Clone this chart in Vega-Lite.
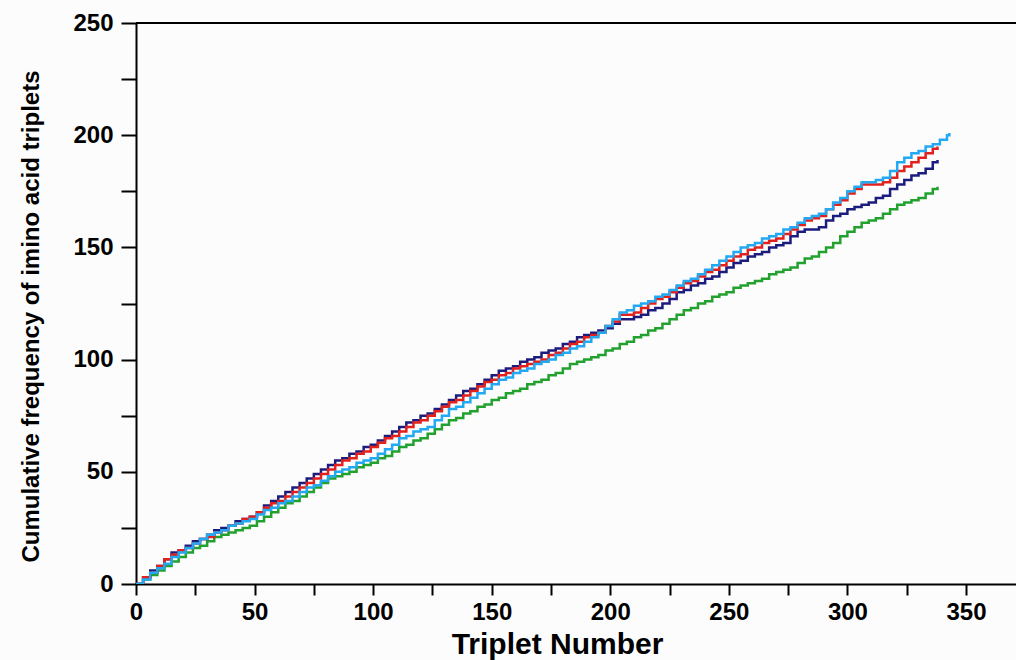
{
  "$schema": "https://vega.github.io/schema/vega-lite/v6.json",
  "width": 880,
  "height": 561,
  "autosize": {"type": "none"},
  "padding": {"left": 136, "top": 23, "right": 0, "bottom": 76},
  "background": "#fcfcfc",
  "view": {"stroke": null, "fill": "#fcfcfc"},
  "config": {"font": "Liberation Sans"},
  "data": {"values": [
    {"s":"green","x":0,"y":0},{"s":"green","x":3,"y":2},{"s":"green","x":6,"y":4},{"s":"green","x":9,"y":6},{"s":"green","x":12,"y":8},{"s":"green","x":15,"y":10},{"s":"green","x":18,"y":12},{"s":"green","x":21,"y":14},{"s":"green","x":24,"y":16},{"s":"green","x":27,"y":17},{"s":"green","x":30,"y":19},{"s":"green","x":33,"y":21},{"s":"green","x":36,"y":22},{"s":"green","x":39,"y":23},{"s":"green","x":42,"y":24},{"s":"green","x":45,"y":25},{"s":"green","x":48,"y":26},{"s":"green","x":51,"y":28},{"s":"green","x":54,"y":30},{"s":"green","x":57,"y":32},{"s":"green","x":60,"y":34},{"s":"green","x":63,"y":36},{"s":"green","x":66,"y":37},{"s":"green","x":69,"y":39},{"s":"green","x":72,"y":41},{"s":"green","x":75,"y":43},{"s":"green","x":78,"y":45},{"s":"green","x":81,"y":47},{"s":"green","x":84,"y":48},{"s":"green","x":87,"y":49},{"s":"green","x":90,"y":50},{"s":"green","x":93,"y":52},{"s":"green","x":96,"y":53},{"s":"green","x":99,"y":54},{"s":"green","x":102,"y":56},{"s":"green","x":105,"y":57},{"s":"green","x":108,"y":59},{"s":"green","x":111,"y":61},{"s":"green","x":114,"y":62},{"s":"green","x":117,"y":64},{"s":"green","x":120,"y":65},{"s":"green","x":123,"y":67},{"s":"green","x":126,"y":69},{"s":"green","x":129,"y":71},{"s":"green","x":132,"y":73},{"s":"green","x":135,"y":74},{"s":"green","x":138,"y":76},{"s":"green","x":141,"y":77},{"s":"green","x":144,"y":79},{"s":"green","x":147,"y":80},{"s":"green","x":150,"y":82},{"s":"green","x":153,"y":83},{"s":"green","x":156,"y":85},{"s":"green","x":159,"y":86},{"s":"green","x":162,"y":87},{"s":"green","x":165,"y":89},{"s":"green","x":168,"y":90},{"s":"green","x":171,"y":91},{"s":"green","x":174,"y":93},{"s":"green","x":177,"y":94},{"s":"green","x":180,"y":96},{"s":"green","x":183,"y":98},{"s":"green","x":186,"y":99},{"s":"green","x":189,"y":100},{"s":"green","x":192,"y":101},{"s":"green","x":195,"y":102},{"s":"green","x":198,"y":104},{"s":"green","x":201,"y":105},{"s":"green","x":204,"y":107},{"s":"green","x":207,"y":108},{"s":"green","x":210,"y":110},{"s":"green","x":213,"y":111},{"s":"green","x":216,"y":113},{"s":"green","x":219,"y":114},{"s":"green","x":222,"y":116},{"s":"green","x":225,"y":118},{"s":"green","x":228,"y":120},{"s":"green","x":231,"y":122},{"s":"green","x":234,"y":123},{"s":"green","x":237,"y":125},{"s":"green","x":240,"y":126},{"s":"green","x":243,"y":128},{"s":"green","x":246,"y":129},{"s":"green","x":249,"y":130},{"s":"green","x":252,"y":132},{"s":"green","x":255,"y":133},{"s":"green","x":258,"y":134},{"s":"green","x":261,"y":135},{"s":"green","x":264,"y":136},{"s":"green","x":267,"y":138},{"s":"green","x":270,"y":139},{"s":"green","x":273,"y":140},{"s":"green","x":276,"y":141},{"s":"green","x":279,"y":143},{"s":"green","x":282,"y":145},{"s":"green","x":285,"y":146},{"s":"green","x":288,"y":148},{"s":"green","x":291,"y":150},{"s":"green","x":294,"y":152},{"s":"green","x":297,"y":155},{"s":"green","x":300,"y":157},{"s":"green","x":303,"y":159},{"s":"green","x":306,"y":161},{"s":"green","x":309,"y":162},{"s":"green","x":312,"y":163},{"s":"green","x":315,"y":165},{"s":"green","x":318,"y":167},{"s":"green","x":321,"y":169},{"s":"green","x":324,"y":170},{"s":"green","x":327,"y":171},{"s":"green","x":330,"y":172},{"s":"green","x":333,"y":174},{"s":"green","x":336,"y":176},{"s":"green","x":338,"y":177},
    {"s":"navy","x":0,"y":0},{"s":"navy","x":3,"y":3},{"s":"navy","x":6,"y":6},{"s":"navy","x":9,"y":8},{"s":"navy","x":12,"y":11},{"s":"navy","x":15,"y":14},{"s":"navy","x":18,"y":15},{"s":"navy","x":21,"y":17},{"s":"navy","x":24,"y":19},{"s":"navy","x":27,"y":20},{"s":"navy","x":30,"y":22},{"s":"navy","x":33,"y":24},{"s":"navy","x":36,"y":25},{"s":"navy","x":39,"y":26},{"s":"navy","x":42,"y":28},{"s":"navy","x":45,"y":29},{"s":"navy","x":48,"y":30},{"s":"navy","x":51,"y":32},{"s":"navy","x":54,"y":35},{"s":"navy","x":57,"y":37},{"s":"navy","x":60,"y":39},{"s":"navy","x":63,"y":41},{"s":"navy","x":66,"y":43},{"s":"navy","x":69,"y":45},{"s":"navy","x":72,"y":47},{"s":"navy","x":75,"y":49},{"s":"navy","x":78,"y":51},{"s":"navy","x":81,"y":53},{"s":"navy","x":84,"y":55},{"s":"navy","x":87,"y":56},{"s":"navy","x":90,"y":58},{"s":"navy","x":93,"y":59},{"s":"navy","x":96,"y":61},{"s":"navy","x":99,"y":62},{"s":"navy","x":102,"y":64},{"s":"navy","x":105,"y":66},{"s":"navy","x":108,"y":68},{"s":"navy","x":111,"y":70},{"s":"navy","x":114,"y":72},{"s":"navy","x":117,"y":73},{"s":"navy","x":120,"y":75},{"s":"navy","x":123,"y":76},{"s":"navy","x":126,"y":78},{"s":"navy","x":129,"y":80},{"s":"navy","x":132,"y":82},{"s":"navy","x":135,"y":84},{"s":"navy","x":138,"y":86},{"s":"navy","x":141,"y":87},{"s":"navy","x":144,"y":89},{"s":"navy","x":147,"y":91},{"s":"navy","x":150,"y":93},{"s":"navy","x":153,"y":95},{"s":"navy","x":156,"y":96},{"s":"navy","x":159,"y":97},{"s":"navy","x":162,"y":99},{"s":"navy","x":165,"y":100},{"s":"navy","x":168,"y":101},{"s":"navy","x":171,"y":103},{"s":"navy","x":174,"y":104},{"s":"navy","x":177,"y":105},{"s":"navy","x":180,"y":107},{"s":"navy","x":183,"y":108},{"s":"navy","x":186,"y":110},{"s":"navy","x":189,"y":111},{"s":"navy","x":192,"y":112},{"s":"navy","x":195,"y":113},{"s":"navy","x":198,"y":114},{"s":"navy","x":201,"y":116},{"s":"navy","x":204,"y":118},{"s":"navy","x":207,"y":118},{"s":"navy","x":210,"y":119},{"s":"navy","x":213,"y":120},{"s":"navy","x":216,"y":122},{"s":"navy","x":219,"y":123},{"s":"navy","x":222,"y":125},{"s":"navy","x":225,"y":127},{"s":"navy","x":228,"y":130},{"s":"navy","x":231,"y":131},{"s":"navy","x":234,"y":133},{"s":"navy","x":237,"y":134},{"s":"navy","x":240,"y":136},{"s":"navy","x":243,"y":137},{"s":"navy","x":246,"y":139},{"s":"navy","x":249,"y":141},{"s":"navy","x":252,"y":143},{"s":"navy","x":255,"y":144},{"s":"navy","x":258,"y":146},{"s":"navy","x":261,"y":147},{"s":"navy","x":264,"y":148},{"s":"navy","x":267,"y":150},{"s":"navy","x":270,"y":151},{"s":"navy","x":273,"y":152},{"s":"navy","x":276,"y":155},{"s":"navy","x":279,"y":157},{"s":"navy","x":282,"y":158},{"s":"navy","x":285,"y":158},{"s":"navy","x":288,"y":159},{"s":"navy","x":291,"y":162},{"s":"navy","x":294,"y":164},{"s":"navy","x":297,"y":165},{"s":"navy","x":300,"y":167},{"s":"navy","x":303,"y":168},{"s":"navy","x":306,"y":169},{"s":"navy","x":309,"y":170},{"s":"navy","x":312,"y":172},{"s":"navy","x":315,"y":173},{"s":"navy","x":318,"y":176},{"s":"navy","x":321,"y":178},{"s":"navy","x":324,"y":180},{"s":"navy","x":327,"y":182},{"s":"navy","x":330,"y":183},{"s":"navy","x":333,"y":185},{"s":"navy","x":336,"y":188},{"s":"navy","x":338,"y":189},
    {"s":"red","x":0,"y":0},{"s":"red","x":3,"y":3},{"s":"red","x":6,"y":5},{"s":"red","x":9,"y":8},{"s":"red","x":12,"y":11},{"s":"red","x":15,"y":13},{"s":"red","x":18,"y":15},{"s":"red","x":21,"y":16},{"s":"red","x":24,"y":18},{"s":"red","x":27,"y":20},{"s":"red","x":30,"y":21},{"s":"red","x":33,"y":23},{"s":"red","x":36,"y":24},{"s":"red","x":39,"y":26},{"s":"red","x":42,"y":27},{"s":"red","x":45,"y":29},{"s":"red","x":48,"y":30},{"s":"red","x":51,"y":32},{"s":"red","x":54,"y":34},{"s":"red","x":57,"y":36},{"s":"red","x":60,"y":37},{"s":"red","x":63,"y":39},{"s":"red","x":66,"y":41},{"s":"red","x":69,"y":43},{"s":"red","x":72,"y":45},{"s":"red","x":75,"y":47},{"s":"red","x":78,"y":49},{"s":"red","x":81,"y":51},{"s":"red","x":84,"y":53},{"s":"red","x":87,"y":55},{"s":"red","x":90,"y":56},{"s":"red","x":93,"y":58},{"s":"red","x":96,"y":59},{"s":"red","x":99,"y":61},{"s":"red","x":102,"y":63},{"s":"red","x":105,"y":65},{"s":"red","x":108,"y":66},{"s":"red","x":111,"y":68},{"s":"red","x":114,"y":70},{"s":"red","x":117,"y":72},{"s":"red","x":120,"y":73},{"s":"red","x":123,"y":75},{"s":"red","x":126,"y":77},{"s":"red","x":129,"y":79},{"s":"red","x":132,"y":81},{"s":"red","x":135,"y":82},{"s":"red","x":138,"y":84},{"s":"red","x":141,"y":86},{"s":"red","x":144,"y":88},{"s":"red","x":147,"y":90},{"s":"red","x":150,"y":91},{"s":"red","x":153,"y":93},{"s":"red","x":156,"y":94},{"s":"red","x":159,"y":96},{"s":"red","x":162,"y":97},{"s":"red","x":165,"y":98},{"s":"red","x":168,"y":99},{"s":"red","x":171,"y":100},{"s":"red","x":174,"y":102},{"s":"red","x":177,"y":103},{"s":"red","x":180,"y":105},{"s":"red","x":183,"y":107},{"s":"red","x":186,"y":108},{"s":"red","x":189,"y":110},{"s":"red","x":192,"y":111},{"s":"red","x":195,"y":112},{"s":"red","x":198,"y":115},{"s":"red","x":201,"y":117},{"s":"red","x":204,"y":120},{"s":"red","x":207,"y":120},{"s":"red","x":210,"y":121},{"s":"red","x":213,"y":123},{"s":"red","x":216,"y":125},{"s":"red","x":219,"y":127},{"s":"red","x":222,"y":128},{"s":"red","x":225,"y":130},{"s":"red","x":228,"y":132},{"s":"red","x":231,"y":134},{"s":"red","x":234,"y":135},{"s":"red","x":237,"y":137},{"s":"red","x":240,"y":139},{"s":"red","x":243,"y":140},{"s":"red","x":246,"y":142},{"s":"red","x":249,"y":144},{"s":"red","x":252,"y":146},{"s":"red","x":255,"y":147},{"s":"red","x":258,"y":149},{"s":"red","x":261,"y":150},{"s":"red","x":264,"y":152},{"s":"red","x":267,"y":153},{"s":"red","x":270,"y":154},{"s":"red","x":273,"y":156},{"s":"red","x":276,"y":158},{"s":"red","x":279,"y":160},{"s":"red","x":282,"y":162},{"s":"red","x":285,"y":163},{"s":"red","x":288,"y":164},{"s":"red","x":291,"y":167},{"s":"red","x":294,"y":169},{"s":"red","x":297,"y":171},{"s":"red","x":300,"y":174},{"s":"red","x":303,"y":176},{"s":"red","x":306,"y":178},{"s":"red","x":309,"y":178},{"s":"red","x":312,"y":178},{"s":"red","x":315,"y":179},{"s":"red","x":318,"y":181},{"s":"red","x":321,"y":184},{"s":"red","x":324,"y":186},{"s":"red","x":327,"y":188},{"s":"red","x":330,"y":190},{"s":"red","x":333,"y":192},{"s":"red","x":336,"y":194},{"s":"red","x":338,"y":195},
    {"s":"blue","x":0,"y":0},{"s":"blue","x":3,"y":2},{"s":"blue","x":6,"y":5},{"s":"blue","x":9,"y":7},{"s":"blue","x":12,"y":9},{"s":"blue","x":15,"y":12},{"s":"blue","x":18,"y":14},{"s":"blue","x":21,"y":16},{"s":"blue","x":24,"y":18},{"s":"blue","x":27,"y":20},{"s":"blue","x":30,"y":22},{"s":"blue","x":33,"y":23},{"s":"blue","x":36,"y":24},{"s":"blue","x":39,"y":26},{"s":"blue","x":42,"y":27},{"s":"blue","x":45,"y":28},{"s":"blue","x":48,"y":29},{"s":"blue","x":51,"y":31},{"s":"blue","x":54,"y":33},{"s":"blue","x":57,"y":34},{"s":"blue","x":60,"y":36},{"s":"blue","x":63,"y":37},{"s":"blue","x":66,"y":39},{"s":"blue","x":69,"y":41},{"s":"blue","x":72,"y":43},{"s":"blue","x":75,"y":44},{"s":"blue","x":78,"y":46},{"s":"blue","x":81,"y":48},{"s":"blue","x":84,"y":50},{"s":"blue","x":87,"y":51},{"s":"blue","x":90,"y":52},{"s":"blue","x":93,"y":54},{"s":"blue","x":96,"y":55},{"s":"blue","x":99,"y":56},{"s":"blue","x":102,"y":58},{"s":"blue","x":105,"y":60},{"s":"blue","x":108,"y":62},{"s":"blue","x":111,"y":65},{"s":"blue","x":114,"y":66},{"s":"blue","x":117,"y":68},{"s":"blue","x":120,"y":69},{"s":"blue","x":123,"y":70},{"s":"blue","x":126,"y":73},{"s":"blue","x":129,"y":75},{"s":"blue","x":132,"y":78},{"s":"blue","x":135,"y":79},{"s":"blue","x":138,"y":81},{"s":"blue","x":141,"y":83},{"s":"blue","x":144,"y":85},{"s":"blue","x":147,"y":87},{"s":"blue","x":150,"y":89},{"s":"blue","x":153,"y":91},{"s":"blue","x":156,"y":92},{"s":"blue","x":159,"y":94},{"s":"blue","x":162,"y":95},{"s":"blue","x":165,"y":96},{"s":"blue","x":168,"y":98},{"s":"blue","x":171,"y":99},{"s":"blue","x":174,"y":100},{"s":"blue","x":177,"y":102},{"s":"blue","x":180,"y":103},{"s":"blue","x":183,"y":105},{"s":"blue","x":186,"y":106},{"s":"blue","x":189,"y":108},{"s":"blue","x":192,"y":110},{"s":"blue","x":195,"y":112},{"s":"blue","x":198,"y":115},{"s":"blue","x":201,"y":118},{"s":"blue","x":204,"y":121},{"s":"blue","x":207,"y":122},{"s":"blue","x":210,"y":124},{"s":"blue","x":213,"y":125},{"s":"blue","x":216,"y":126},{"s":"blue","x":219,"y":128},{"s":"blue","x":222,"y":129},{"s":"blue","x":225,"y":131},{"s":"blue","x":228,"y":133},{"s":"blue","x":231,"y":135},{"s":"blue","x":234,"y":136},{"s":"blue","x":237,"y":138},{"s":"blue","x":240,"y":140},{"s":"blue","x":243,"y":142},{"s":"blue","x":246,"y":144},{"s":"blue","x":249,"y":146},{"s":"blue","x":252,"y":148},{"s":"blue","x":255,"y":150},{"s":"blue","x":258,"y":151},{"s":"blue","x":261,"y":152},{"s":"blue","x":264,"y":154},{"s":"blue","x":267,"y":155},{"s":"blue","x":270,"y":156},{"s":"blue","x":273,"y":158},{"s":"blue","x":276,"y":159},{"s":"blue","x":279,"y":161},{"s":"blue","x":282,"y":163},{"s":"blue","x":285,"y":164},{"s":"blue","x":288,"y":165},{"s":"blue","x":291,"y":167},{"s":"blue","x":294,"y":170},{"s":"blue","x":297,"y":172},{"s":"blue","x":300,"y":175},{"s":"blue","x":303,"y":177},{"s":"blue","x":306,"y":179},{"s":"blue","x":309,"y":179},{"s":"blue","x":312,"y":180},{"s":"blue","x":315,"y":181},{"s":"blue","x":318,"y":184},{"s":"blue","x":321,"y":188},{"s":"blue","x":324,"y":190},{"s":"blue","x":327,"y":192},{"s":"blue","x":330,"y":193},{"s":"blue","x":333,"y":195},{"s":"blue","x":336,"y":196},{"s":"blue","x":339,"y":198},{"s":"blue","x":342,"y":200},{"s":"blue","x":343,"y":201}
  ]},
  "layer": [
    {
      "mark": {"type": "line", "interpolate": "step-after", "strokeWidth": 2.5, "clip": true},
      "encoding": {
        "x": {
          "field": "x", "type": "quantitative",
          "scale": {"domain": [0, 371.1], "nice": false, "zero": true},
          "axis": {
            "title": "Triplet Number",
            "titleFont": "Liberation Sans", "titleFontSize": 30, "titleFontWeight": "bold", "titleColor": "#000",
            "titleX": 421, "titleY": 69, "titleBaseline": "alphabetic", "titleAnchor": "middle",
            "values": [0,25,50,75,100,125,150,175,200,225,250,275,300,325,350],
            "labelExpr": "datum.value % 50 === 0 ? datum.label : ''",
            "labelFont": "Liberation Sans", "labelFontSize": 24, "labelFontWeight": "bold", "labelColor": "#000",
            "labelPadding": 5, "labelFlush": false, "labelOverlap": false,
            "domainColor": "#000", "domainWidth": 2,
            "tickColor": "#000", "tickWidth": 2, "tickSize": 11,
            "encode": {"ticks": {"update": {"y2": {"signal": "datum.value % 50 === 0 ? 11 : 7"}}}},
            "grid": false
          }
        },
        "y": {
          "field": "y", "type": "quantitative",
          "scale": {"domain": [0, 250], "nice": false},
          "axis": {
            "title": "Cumulative frequency of imino acid triplets",
            "titleFont": "Liberation Sans", "titleFontSize": 24, "titleFontWeight": "bold", "titleColor": "#000",
            "titleX": -98, "titleY": 293, "titleBaseline": "alphabetic", "titleAlign": "center", "titleAngle": -90,
            "values": [0,25,50,75,100,125,150,175,200,225,250],
            "labelExpr": "datum.value % 50 === 0 ? datum.label : ''",
            "labelFont": "Liberation Sans", "labelFontSize": 24, "labelFontWeight": "bold", "labelColor": "#000",
            "labelPadding": 8, "labelFlush": false, "labelOverlap": false,
            "domainColor": "#000", "domainWidth": 2,
            "tickColor": "#000", "tickWidth": 2, "tickSize": 15,
            "encode": {"ticks": {"update": {"x2": {"signal": "datum.value % 50 === 0 ? -15 : -8"}}}},
            "grid": false
          }
        },
        "color": {
          "field": "s", "type": "nominal",
          "scale": {"domain": ["green", "navy", "red", "blue"], "range": ["#22a12e", "#1c1c7e", "#e3211c", "#23a8f2"]},
          "legend": null
        }
      }
    },
    {
      "mark": {"type": "rule", "color": "#000", "strokeWidth": 2},
      "encoding": {"y": {"datum": 250}}
    }
  ]
}
